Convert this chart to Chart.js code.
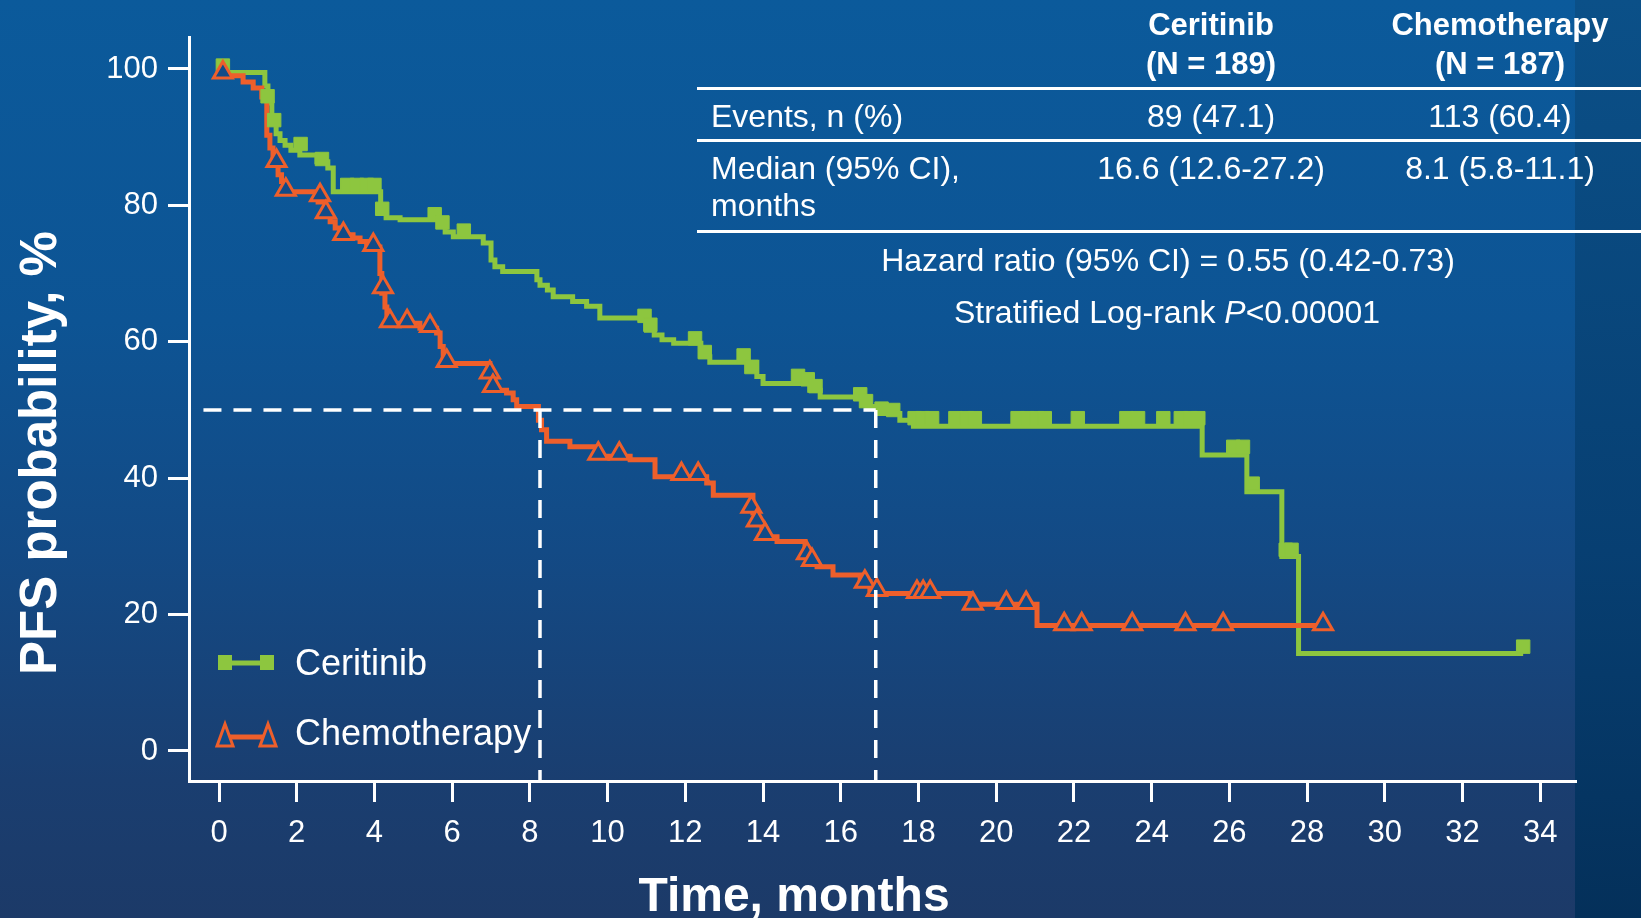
<!DOCTYPE html>
<html lang="en">
<head>
  <meta charset="UTF-8">
  <title>PFS Ceritinib vs Chemotherapy</title>
  <script src="https://cdn.jsdelivr.net/npm/chart.js"></script>
  <style>
    html, body { margin: 0; padding: 0; }
    body {
      width: 1641px;
      height: 918px;
      overflow: hidden;
      position: relative;
      background: linear-gradient(180deg, #0b5a9b 0%, #0d5494 35%, #134a85 60%, #1a3e70 85%, #1c3a68 100%);
      font-family: 'Liberation Sans', Arial, sans-serif;
      color: #fff;
    }
    .strip {
      position: absolute; left: 1575px; top: 0; width: 66px; height: 918px;
      background: linear-gradient(180deg, #0b5088 0%, #073f72 60%, #04305a 100%);
    }
    #wrap { position: absolute; left: 0; top: 0; width: 1641px; height: 918px; }
    .t { position: absolute; white-space: nowrap; line-height: 1; font-size: 32px; }
    .b { font-weight: bold; font-size: 31px; }
    .c { transform: translateX(-50%); }
    .rule { position: absolute; left: 697px; width: 944px; height: 3px; background: #fff; }
  </style>
</head>
<body>
  <div class="strip"></div>
  <div id="wrap"><canvas id="kmChart" width="1641" height="918"></canvas></div>

  <div class="t b c" style="left:1211px; top:9px;">Ceritinib</div>
  <div class="t b c" style="left:1211px; top:48px;">(N = 189)</div>
  <div class="t b c" style="left:1500px; top:9px;">Chemotherapy</div>
  <div class="t b c" style="left:1500px; top:48px;">(N = 187)</div>
  <div class="rule" style="top:87px;"></div>
  <div class="t" style="left:711px; top:100px;">Events, n (%)</div>
  <div class="t c" style="left:1211px; top:100px;">89 (47.1)</div>
  <div class="t c" style="left:1500px; top:100px;">113 (60.4)</div>
  <div class="rule" style="top:139px;"></div>
  <div class="t" style="left:711px; top:152px;">Median (95% CI),</div>
  <div class="t" style="left:711px; top:189px;">months</div>
  <div class="t c" style="left:1211px; top:152px;">16.6 (12.6-27.2)</div>
  <div class="t c" style="left:1500px; top:152px;">8.1 (5.8-11.1)</div>
  <div class="rule" style="top:230px;"></div>
  <div class="t c" style="left:1168px; top:244px;">Hazard ratio (95% CI) = 0.55 (0.42-0.73)</div>
  <div class="t c" style="left:1167px; top:296px;">Stratified Log-rank <i>P</i>&lt;0.00001</div>

  <script>
    const seriesNames = ['Ceritinib', 'Chemotherapy'];
    const xTitle = 'Time, months';
    const yTitle = 'PFS probability, %';
    const xTicks = [0, 2, 4, 6, 8, 10, 12, 14, 16, 18, 20, 22, 24, 26, 28, 30, 32, 34];
    const yTicks = [0, 20, 40, 60, 80, 100];

    // Kaplan-Meier steps (month, % event-free)
    const ceritinibTime = [0, 0.15, 1.18, 1.26, 1.36, 1.47, 1.57, 1.7, 1.85, 2.08, 2.52, 2.8, 2.94, 4.16, 4.3, 4.66,
      5.82, 6.03, 6.8, 7.0, 7.1, 7.3, 8.18, 8.26, 8.45, 8.6, 9.1, 9.46, 9.8, 11.0, 11.2, 11.4, 11.7, 12.4, 12.63,
      13.84, 14.0, 15.2, 15.47, 16.67, 16.93, 17.52, 17.87, 25.3, 26.45, 27.35, 27.78, 33.56];
    const ceritinibPFS = [100, 99.5, 97.5, 95, 93, 90.5, 89.5, 88.8, 88.1, 87.4, 86.4, 85.5, 82.0, 79.0, 78.2, 77.9,
      76.1, 75.4, 74.5, 72.0, 71.0, 70.3, 69.1, 68.3, 67.6, 66.6, 65.9, 65.2, 63.5, 61.7, 61.0, 60.3, 59.8, 57.8, 57.0,
      54.9, 53.9, 52.9, 51.9, 50.5, 49.5, 48.5, 47.6, 43.4, 38.0, 28.5, 14.3, 14.3];

    const chemoTime = [0, 0.1, 0.62, 0.88, 1.1, 1.23, 1.31, 1.39, 1.52, 1.61, 1.66, 2.55, 2.73, 2.86, 2.99, 3.11,
      3.45, 3.63, 3.8, 4.14, 4.19, 4.27, 4.32, 5.17, 5.6, 5.69, 5.77, 5.86, 6.97, 7.1, 7.4, 7.57, 7.66, 8.22, 8.3,
      8.43, 9.03, 9.7, 10.58, 11.22, 12.55, 12.72, 13.74, 13.83, 13.97, 14.1, 14.36, 15.08, 15.2, 15.39, 15.8, 16.5,
      16.75, 17.0, 19.33, 21.05, 28.42];
    const chemoPFS = [100, 99.0, 98.1, 97.2, 95.9, 90.3, 88.4, 85.9, 84.5, 83.5, 82.0, 80.5, 78.6, 77.6, 76.7, 75.7,
      75.2, 74.7, 73.9, 70.0, 67.1, 65.1, 62.7, 62.0, 61.3, 59.3, 57.8, 56.8, 54.9, 52.9, 52.5, 51.5, 50.5, 48.5, 47.1,
      45.4, 44.6, 43.2, 42.7, 40.2, 39.3, 37.5, 34.9, 33.6, 31.9, 31.4, 30.7, 29.0, 27.8, 27.0, 25.8, 24.8,
      23.6, 23.1, 21.5, 18.4, 18.4];

    // censored patients
    const ceritinibCensorTime = [0.1, 1.25, 1.42, 2.1, 2.65, 3.3, 3.55, 3.8, 4.0, 4.2, 5.55, 5.75, 6.3, 10.95, 11.1,
      12.25, 12.5, 13.5, 13.7, 14.9, 15.15, 15.35, 16.5, 16.65, 17.05, 17.35, 17.9, 18.1, 18.35, 18.95, 19.25, 19.45,
      20.55, 20.8, 21.05, 21.25, 22.1, 23.35, 23.65, 24.3, 24.75, 25.0, 25.2, 26.1, 26.35, 26.6, 27.45, 27.6, 33.56];
    const ceritinibCensorPFS = [100.5, 96, 92.5, 89, 86.8, 83, 83, 83, 83, 79.5, 78.7, 77.5, 76.3, 63.8, 62.5,
      60.5, 58.5, 58, 56.3, 55, 54.5, 53.5, 52.3, 51.3, 50.2, 50, 48.8, 48.8, 48.8, 48.8, 48.8, 48.8,
      48.8, 48.8, 48.8, 48.8, 48.8, 48.8, 48.8, 48.8, 48.8, 48.8, 48.8, 44.6, 44.6, 39.2, 29.5, 29.5, 15.3];
    const chemoCensorTime = [0.1, 1.48, 1.72, 2.6, 2.75, 3.2, 3.97, 4.22, 4.4, 4.84, 5.43, 5.86, 6.97, 7.05, 9.76,
      10.3, 11.9, 12.33, 13.7, 13.84, 14.05, 15.13, 15.26, 16.62, 16.93, 17.96, 18.12, 18.3, 19.4, 20.26, 20.77,
      21.75, 22.2, 23.5, 24.87, 25.84, 28.41];
    const chemoCensorPFS = [99.5, 86.5, 82.3, 81.5, 79, 75.8, 74.2, 68, 63, 63, 62.3, 57.2, 55.5, 53.5, 43.6,
      43.6, 40.6, 40.6, 35.8, 33.8, 31.8, 29, 28, 24.8, 23.6, 23.3, 23.3, 23.3, 21.6, 21.7, 21.7,
      18.6, 18.6, 18.6, 18.6, 18.6, 18.6];

    // median guide lines as drawn
    const medianLevel = 50;
    const medianLineStart = -0.4;
    const medianTimes = [8.26, 16.9];

    const green = '#8dc63f';
    const orange = '#ee5f2b';
    const triangleFill = '#124b88';

    const zip = (xs, ys) => xs.map((x, i) => ({ x: x, y: ys[i] }));
    const yMin = -4.4, yMax = 104.69;

    const guides = [
      { data: [{ x: medianLineStart, y: medianLevel }, { x: medianTimes[1], y: medianLevel }] },
      { data: [{ x: medianTimes[0], y: medianLevel }, { x: medianTimes[0], y: yMin }] },
      { data: [{ x: medianTimes[1], y: medianLevel }, { x: medianTimes[1], y: yMin }] },
    ].map(g => Object.assign(g, {
      type: 'line', borderColor: '#fff', borderWidth: 3.5, borderDash: [18, 12],
      pointRadius: 0, fill: false, order: 0
    }));

    // axis titles and legend
    const decorPlugin = {
      id: 'decor',
      afterDraw(chart) {
        const ctx = chart.ctx;
        ctx.save();
        ctx.fillStyle = '#fff';
        ctx.font = "bold 48px 'Liberation Sans', Arial, sans-serif";
        ctx.textAlign = 'center';
        ctx.textBaseline = 'alphabetic';
        ctx.fillText(xTitle, 794, 911);
        ctx.save();
        ctx.translate(56, 453);
        ctx.rotate(-Math.PI / 2);
        ctx.font = "bold 51px 'Liberation Sans', Arial, sans-serif";
        ctx.fillText(yTitle, 0, 0);
        ctx.restore();

        // legend: Ceritinib
        ctx.lineWidth = 5;
        ctx.strokeStyle = green;
        ctx.beginPath(); ctx.moveTo(220, 663); ctx.lineTo(272, 663); ctx.stroke();
        ctx.fillStyle = green;
        [225, 267].forEach(cx => ctx.fillRect(cx - 7, 655, 14, 15));
        // legend: Chemotherapy
        ctx.strokeStyle = orange;
        ctx.beginPath(); ctx.moveTo(225, 737); ctx.lineTo(268, 737); ctx.stroke();
        ctx.lineWidth = 3;
        [225, 268].forEach(cx => {
          ctx.beginPath();
          ctx.moveTo(cx, 724); ctx.lineTo(cx + 8, 746); ctx.lineTo(cx - 8, 746); ctx.closePath();
          ctx.fillStyle = triangleFill; ctx.fill(); ctx.stroke();
        });
        ctx.fillStyle = '#fff';
        ctx.font = "36px 'Liberation Sans', Arial, sans-serif";
        ctx.textAlign = 'left';
        ctx.textBaseline = 'middle';
        ctx.fillText(seriesNames[0], 295, 665);
        ctx.fillText(seriesNames[1], 295, 735);
        ctx.restore();
      }
    };

    Chart.defaults.font.family = "'Liberation Sans', Arial, sans-serif";
    Chart.defaults.color = '#fff';

    const axisCommon = {
      type: 'linear',
      grid: { drawOnChartArea: false, drawTicks: true, tickLength: 21, color: '#fff', lineWidth: 3 },
      border: { display: true, color: '#fff', width: 3 },
    };

    new Chart(document.getElementById('kmChart'), {
      type: 'line',
      data: {
        datasets: [
          ...guides,
          {
            label: seriesNames[1] + ' censored', type: 'scatter', data: zip(chemoCensorTime, chemoCensorPFS),
            pointStyle: 'triangle', pointRadius: 11, borderColor: orange, backgroundColor: triangleFill,
            borderWidth: 3, order: 1
          },
          {
            label: seriesNames[0] + ' censored', type: 'scatter', data: zip(ceritinibCensorTime, ceritinibCensorPFS),
            pointStyle: 'rect', pointRadius: 9.5, borderColor: green, backgroundColor: green,
            borderWidth: 1, order: 2
          },
          {
            label: seriesNames[1], data: zip(chemoTime, chemoPFS), stepped: 'before',
            borderColor: orange, borderWidth: 5, pointRadius: 0, fill: false, order: 3
          },
          {
            label: seriesNames[0], data: zip(ceritinibTime, ceritinibPFS), stepped: 'before',
            borderColor: green, borderWidth: 5, pointRadius: 0, fill: false, order: 4
          },
        ],
      },
      options: {
        responsive: false,
        animation: false,
        layout: { padding: { left: 0, right: 66, top: 37, bottom: 0 } },
        plugins: { legend: { display: false }, tooltip: { enabled: false } },
        scales: {
          x: Object.assign({}, axisCommon, {
            min: -0.772, max: 34.894,
            afterBuildTicks: s => { s.ticks = xTicks.map(v => ({ value: v })); },
            afterFit: s => { s.height = 137; },
            ticks: { autoSkip: false, maxRotation: 0, padding: 13, font: { size: 31 }, color: '#fff' },
          }),
          y: Object.assign({}, axisCommon, {
            min: yMin, max: yMax,
            afterBuildTicks: s => { s.ticks = yTicks.map(v => ({ value: v })); },
            afterFit: s => { s.width = 189; },
            ticks: { padding: 10, font: { size: 31 }, color: '#fff' },
          }),
        },
      },
      plugins: [decorPlugin],
    });
  </script>
</body>
</html>
